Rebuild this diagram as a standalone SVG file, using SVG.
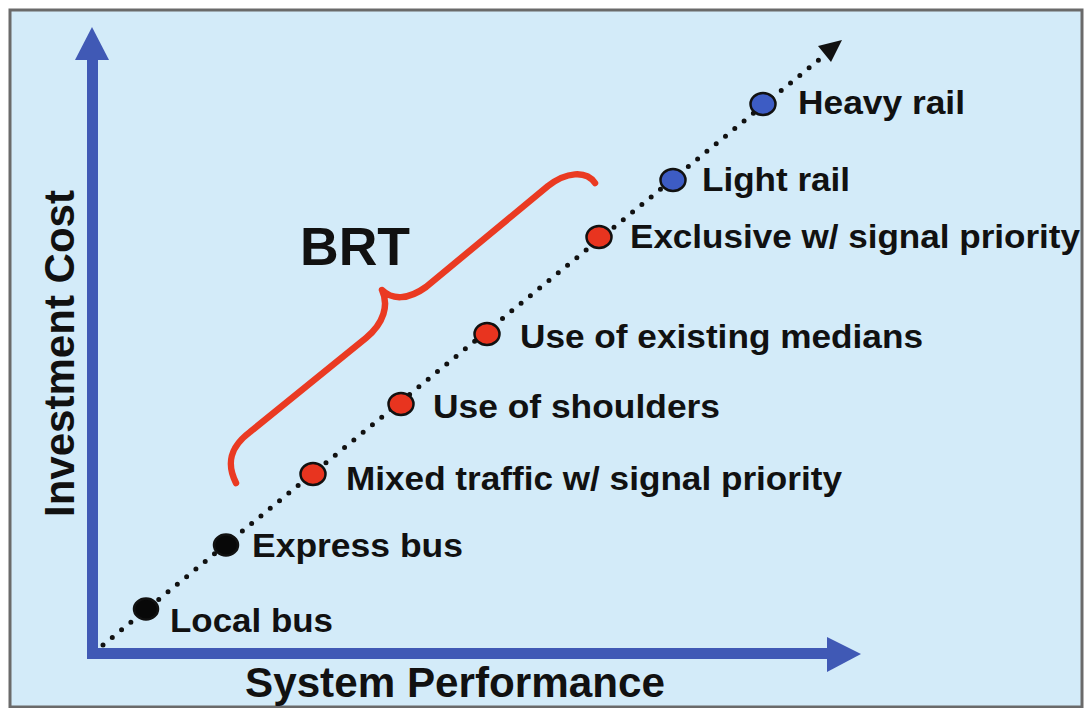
<svg xmlns="http://www.w3.org/2000/svg" width="1085" height="708" viewBox="0 0 1085 708">
<style>
.lbl{font-family:"Liberation Sans",Arial,sans-serif;font-weight:bold;font-size:34px;fill:#111111}
.ax{fill:#4059b5}
.dot{stroke:#111;stroke-width:2.5}
.red{fill:#e8341f}
.blue{fill:#3d5cc4}
.blk{fill:#080808}
</style>
<rect x="0" y="0" width="1085" height="708" fill="#ffffff"/>
<rect x="10" y="10" width="1072" height="697" fill="#d3ebf9" stroke="#6a6a6a" stroke-width="3"/>
<g id="axes">
<rect class="ax" x="87" y="56" width="11" height="603"/>
<polygon class="ax" points="75,60 109,60 92,27"/>
<rect class="ax" x="87" y="648" width="742" height="11"/>
<polygon class="ax" points="827,637 827,672 861,654"/>
</g>
<g id="connectors">
<line x1="103" y1="645" x2="826" y2="54" stroke="#111" stroke-width="5" stroke-linecap="round" stroke-dasharray="0 12"/>
<polygon points="842,40 831,62 818,46" fill="#111"/>
</g>
<g id="brace">
<path d="M236,483 C226,463 230,447 250,432 L366,338 C384,323 389,305 382,290 C392,300 408,300 426,287 L548,186 C566,172 586,170 595,183" fill="none" stroke="#ea3a22" stroke-width="6.5" stroke-linecap="round" stroke-linejoin="round"/>
</g>
<g id="n-local"><ellipse class="blk dot" cx="146" cy="609" rx="12" ry="10.5"/><text class="lbl" x="170" y="632" textLength="163" lengthAdjust="spacingAndGlyphs">Local bus</text></g>
<g id="n-express"><ellipse class="blk dot" cx="226" cy="545" rx="12" ry="10.5"/><text class="lbl" x="252" y="557" textLength="211" lengthAdjust="spacingAndGlyphs">Express bus</text></g>
<g id="n-mixed"><ellipse class="red dot" cx="313" cy="474" rx="12.5" ry="11"/><text class="lbl" x="346" y="490" textLength="496" lengthAdjust="spacingAndGlyphs">Mixed traffic w/ signal priority</text></g>
<g id="n-shoulders"><ellipse class="red dot" cx="401" cy="404" rx="12.5" ry="11"/><text class="lbl" x="433" y="418" textLength="287" lengthAdjust="spacingAndGlyphs">Use of shoulders</text></g>
<g id="n-medians"><ellipse class="red dot" cx="487" cy="334" rx="12.5" ry="11"/><text class="lbl" x="520" y="348" textLength="403" lengthAdjust="spacingAndGlyphs">Use of existing medians</text></g>
<g id="n-exclusive"><ellipse class="red dot" cx="599" cy="237" rx="12.5" ry="11"/><text class="lbl" x="630" y="248" textLength="450" lengthAdjust="spacingAndGlyphs">Exclusive w/ signal priority</text></g>
<g id="n-light"><ellipse class="blue dot" cx="673" cy="180" rx="12.5" ry="11"/><text class="lbl" x="702" y="191" textLength="148" lengthAdjust="spacingAndGlyphs">Light rail</text></g>
<g id="n-heavy"><ellipse class="blue dot" cx="763" cy="104" rx="12.5" ry="11"/><text class="lbl" x="798" y="114" textLength="167" lengthAdjust="spacingAndGlyphs">Heavy rail</text></g>
<g id="titles">
<text class="lbl" x="300" y="265" style="font-size:54px" textLength="110" lengthAdjust="spacingAndGlyphs">BRT</text>
<text class="lbl" x="245" y="697" style="font-size:42px" textLength="420" lengthAdjust="spacingAndGlyphs">System Performance</text>
<text class="lbl" transform="translate(74,517) rotate(-90)" x="0" y="0" style="font-size:42px" textLength="327" lengthAdjust="spacingAndGlyphs">Investment Cost</text>
</g>
</svg>
